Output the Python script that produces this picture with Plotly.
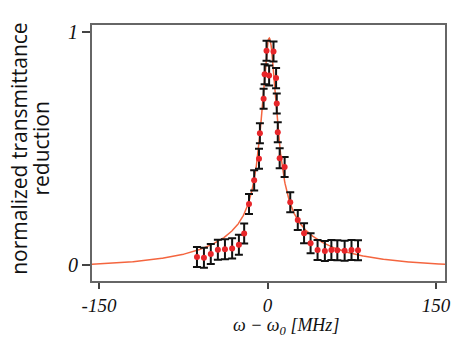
import numpy as np
import plotly.graph_objects as go

# measured points (detuning in MHz, normalized transmittance reduction)
detuning = [-62.8, -56.6, -50.5, -44.2, -37.9, -31.5, -25.5, -20.8, -16.5, -11.9,
            -7.6, -6.8, -3.5, -2.6, -0.9, 1.4, 5.3, 7.6, 8.2, 9.1, 10.8, 15.2,
            20.2, 26.9, 32.5, 38.3, 44.5, 51.0, 56.8, 62.1, 68.6, 74.7, 80.5]
reduction = [0.033, 0.030, 0.046, 0.064, 0.066, 0.070, 0.086, 0.134, 0.261, 0.362,
             0.455, 0.564, 0.712, 0.818, 0.918, 0.812, 0.915, 0.801, 0.692, 0.569, 0.457, 0.419,
             0.268, 0.192, 0.135, 0.092, 0.063, 0.059, 0.063, 0.062, 0.060, 0.063, 0.062]
errors = [0.043] * len(detuning)

# fit line parameters (narrow + broad Lorentzian with offset)
fit_center = 1.5
fit_amp_narrow = 0.84
fit_width_narrow = 8.5
fit_amp_broad = 0.15
fit_width_broad = 55.0
fit_offset = 0.0168

x_ticks = [-150, 0, 150]
x_ticklabels = ["-150", "0", "150"]
y_ticks = [0, 1]
y_ticklabels = ["0", "1"]

fit_x = np.linspace(-160, 160, 801)
d = fit_x - fit_center
fit_y = (fit_amp_narrow / (1 + (d / fit_width_narrow) ** 2)
         + fit_amp_broad / (1 + (d / fit_width_broad) ** 2) - fit_offset)

fig = go.Figure()
fig.add_trace(go.Scatter(x=fit_x, y=fit_y, mode="lines",
                         line=dict(color="#f4653f", width=1.5), hoverinfo="skip"))
fig.add_trace(go.Scatter(x=detuning, y=reduction, mode="markers",
                         marker=dict(color="#e8262a", size=6),
                         error_y=dict(type="data", array=errors, visible=True,
                                      color="#111111", thickness=2, width=4)))

W, H = 463, 338
L, R, T, B = 92, 14, 25, 57
pw, ph = W - L - R, H - T - B

def px(x):
    return (x - L) / pw

def py(y):
    return (H - B - y) / ph

serif = "Liberation Serif"
sans = "Open Sans"

fig.update_layout(
    width=W, height=H, margin=dict(l=L, r=R, t=T, b=B),
    paper_bgcolor="white", plot_bgcolor="white", showlegend=False,
    xaxis=dict(range=[-156.2, 157.9], tickvals=x_ticks, ticktext=x_ticklabels,
               ticks="outside", ticklen=6, tickwidth=1.5, tickcolor="#444",
               showline=True, linecolor="#666", linewidth=2, mirror=True,
               showgrid=False, zeroline=False,
               tickfont=dict(family=serif, size=19, color="#111", style="italic")),
    yaxis=dict(range=[-0.070, 1.029], tickvals=y_ticks, ticktext=y_ticklabels,
               ticks="outside", ticklen=8, tickwidth=1.5, tickcolor="#444",
               showline=True, linecolor="#666", linewidth=2, mirror=True,
               showgrid=False, zeroline=False,
               tickfont=dict(family=serif, size=20, color="#111", style="italic")),
    annotations=[
        dict(text="ω − ω<sub>0</sub> [MHz]", x=px(288), y=py(326), xref="paper", yref="paper",
             xanchor="center", yanchor="middle", showarrow=False,
             font=dict(family=serif, size=18, color="#111", style="italic")),
        dict(text="normalized transmittance", x=px(18), y=py(149), xref="paper", yref="paper",
             xanchor="center", yanchor="middle", showarrow=False, textangle=-90,
             font=dict(family=sans, size=21, color="#111")),
        dict(text="reduction", x=px(40), y=py(149), xref="paper", yref="paper",
             xanchor="center", yanchor="middle", showarrow=False, textangle=-90,
             font=dict(family=sans, size=21, color="#111")),
    ],
)

fig.write_html("out.html", config={"displayModeBar": False},
               post_script="document.body.style.margin='0';document.body.style.overflow='hidden';")
